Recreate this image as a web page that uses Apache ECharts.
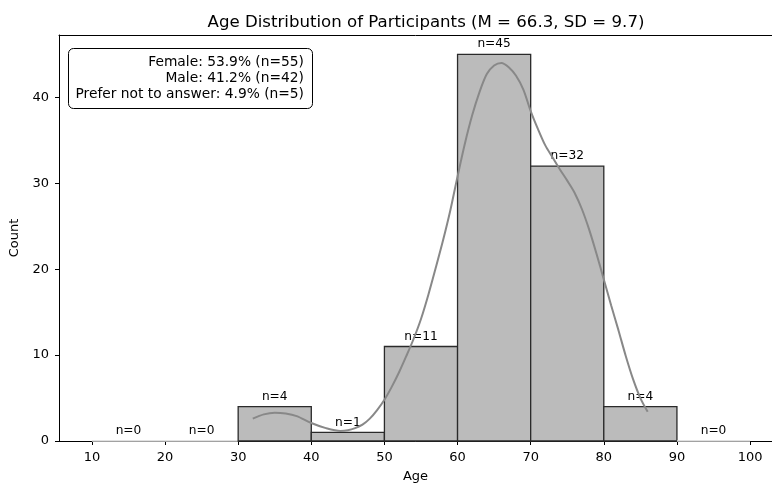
<!DOCTYPE html>
<html>
<head>
<meta charset="utf-8">
<script src="https://cdn.jsdelivr.net/npm/echarts@6/dist/echarts.min.js"></script>
<style>
  html, body { margin: 0; padding: 0; background: #fff; }
  #chart { width: 772px; height: 485px; }
</style>
</head>
<body>
<div id="chart"></div>
<script>
// histogram bins and counts
var binStart = [10, 20, 30, 40, 50, 60, 70, 80, 90];
var binEnd = [20, 30, 40, 50, 60, 70, 80, 90, 100];
var counts = [0, 0, 4, 1, 11, 45, 32, 4, 0];

// kde curve (scaled to counts)
var kdeAge = [32, 33.5, 35, 36.5, 38, 40, 42, 44, 45, 46, 47, 48, 49, 50, 51, 52, 53, 54, 55, 56, 57, 58, 59, 60, 61, 62, 63, 64, 65, 66, 67, 68, 69, 70, 71, 72, 73, 74, 75, 76, 77, 78, 79, 80, 81, 82, 83, 84, 85, 86];
var kdeCount = [2.6, 3.1, 3.3, 3.2, 2.9, 2.1, 1.5, 1.17, 1.25, 1.5, 1.9, 2.6, 3.6, 4.8, 6.3, 8.0, 9.9, 11.9, 14.2, 17.0, 20.1, 23.3, 26.8, 30.8, 34.6, 37.9, 40.6, 42.7, 43.7, 44.0, 43.5, 42.5, 40.9, 38.4, 36.3, 34.4, 33.0, 31.6, 30.3, 28.9, 27.0, 24.6, 21.8, 18.8, 15.8, 12.9, 9.9, 7.2, 5.0, 3.4];

var xTicks = [10, 20, 30, 40, 50, 60, 70, 80, 90, 100];
var yTicks = [0, 10, 20, 30, 40];

var genderLines = [
    'Female: 53.9% (n=55)',
    'Male: 41.2% (n=42)',
    'Prefer not to answer: 4.9% (n=5)'
];

var FONT = '"DejaVu Sans", sans-serif';

var chart = echarts.init(document.getElementById('chart'), null, {renderer: 'canvas'});

var histData = [];
for (var i = 0; i < counts.length; i++) {
    histData.push([binStart[i], binEnd[i], counts[i]]);
}
var kdeData = [];
for (var j = 0; j < kdeAge.length; j++) {
    kdeData.push([kdeAge[j], kdeCount[j]]);
}

var option = {
    animation: false,
    backgroundColor: '#fff',
    title: {
        text: 'Age Distribution of Participants (M = 66.3, SD = 9.7)',
        left: 421,
        top: 9,
        textAlign: 'center',
        textStyle: {
            fontFamily: FONT,
            fontSize: 16.6,
            fontWeight: 'normal',
            color: '#000'
        }
    },
    grid: {
        left: 59,
        right: 0,
        top: 35,
        bottom: 44,
        containLabel: false,
        outerBoundsMode: 'none'
    },
    xAxis: [
        {
            type: 'value',
            min: 5.5,
            max: 103.0,
            name: 'Age',
            nameLocation: 'middle',
            nameGap: 29,
            nameTextStyle: {fontFamily: FONT, fontSize: 13, color: '#000'},
            axisLine: {show: true, onZero: false, lineStyle: {color: '#000', width: 1}},
            axisTick: {show: true, length: 4, customValues: xTicks, lineStyle: {color: '#000'}},
            axisLabel: {customValues: xTicks, margin: 10, fontFamily: FONT, fontSize: 13, color: '#000'},
            splitLine: {show: false}
        },
        {
            // top spine only
            type: 'value',
            position: 'top',
            min: 5.5,
            max: 103.0,
            axisLine: {show: true, onZero: false, lineStyle: {color: '#000', width: 1}},
            axisTick: {show: false},
            axisLabel: {show: false},
            splitLine: {show: false}
        }
    ],
    yAxis: {
        type: 'value',
        min: 0,
        max: 47.25,
        name: 'Count',
        nameLocation: 'middle',
        nameGap: 33,
        nameTextStyle: {fontFamily: FONT, fontSize: 13, color: '#000'},
        axisLine: {show: true, lineStyle: {color: '#000', width: 1}},
        axisTick: {show: true, length: 4, customValues: yTicks, lineStyle: {color: '#000'}},
        axisLabel: {customValues: yTicks, margin: 10, fontFamily: FONT, fontSize: 13, color: '#000'},
        splitLine: {show: false}
    },
    series: [
        {
            type: 'custom',
            data: histData,
            z: 2,
            renderItem: function (params, api) {
                var x0 = api.value(0), x1 = api.value(1), c = api.value(2);
                var p0 = api.coord([x0, c]);
                var p1 = api.coord([x1, 0]);
                var pc = api.coord([(x0 + x1) / 2, c]);
                return {
                    type: 'group',
                    children: [
                        {
                            type: 'rect',
                            shape: {x: p0[0], y: p0[1], width: p1[0] - p0[0], height: p1[1] - p0[1]},
                            style: {fill: '#bbbbbb', stroke: c > 0 ? '#2a2a2a' : '#d8d8d8', lineWidth: 1.3}
                        },
                        {
                            type: 'text',
                            x: pc[0],
                            y: pc[1] - 4,
                            style: {
                                text: 'n=' + c,
                                align: 'center',
                                verticalAlign: 'bottom',
                                font: '12.2px ' + FONT,
                                fill: '#000'
                            }
                        }
                    ]
                };
            }
        },
        {
            type: 'line',
            data: kdeData,
            smooth: 0.3,
            showSymbol: false,
            z: 3,
            lineStyle: {color: '#888888', width: 2}
        }
    ],
    graphic: [
        {
            type: 'rect',
            left: 68,
            top: 48,
            z: 10,
            shape: {width: 244, height: 60, r: 5},
            style: {fill: '#fff', stroke: '#000', lineWidth: 1}
        },
        {
            type: 'text',
            x: 304,
            y: 78,
            z: 11,
            style: {
                text: genderLines.join('\n'),
                align: 'right',
                verticalAlign: 'middle',
                lineHeight: 16,
                font: '13.8px ' + FONT,
                fill: '#000'
            }
        }
    ]
};

chart.setOption(option);
</script>
</body>
</html>
